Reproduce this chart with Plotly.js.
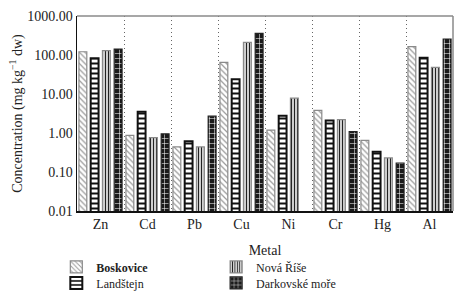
<!DOCTYPE html>
<html>
<head>
<meta charset="utf-8">
<script src="https://cdn.plot.ly/plotly-3.0.1.min.js"></script>
<style>html,body{margin:0;padding:0;background:#fff;}#chart{width:454px;height:304px;}</style>
</head>
<body>
<div id="chart"></div>
<script>
const metals = ["Zn", "Cd", "Pb", "Cu", "Ni", "Cr", "Hg", "Al"];
const boskovice = [121, 0.87, 0.44, 65, 1.19, 3.8, 0.65, 163];
const landstejn = [82, 3.5, 0.61, 24, 2.75, 2.1, 0.33, 85];
const novaRise = [129, 0.76, 0.44, 211, 7.8, 2.2, 0.23, 48];
const darkovske = [142, 0.95, 2.7, 360, null, 1.08, 0.17, 257];
const seriesNames = ["<b>Boskovice</b>", "Landštejn", "Nová Říše", "Darkovské moře"];
const yTickVals = [0.01, 0.1, 1, 10, 100, 1000];
const yTickText = ["0.01", "0.10", "1.00", "10.00", "100.00", "1000.00"];

const FONT = "Liberation Serif";
const TXT = "#222222";

const traces = [
  {
    type: "bar", x: metals, y: boskovice, name: seriesNames[0], legend: "legend",
    marker: {
      color: "#ffffff",
      line: {color: "#8a8a8a", width: 1.2},
      pattern: {shape: "\\", fgcolor: "#9a9a9a", bgcolor: "#ffffff", size: 4, solidity: 0.3, fillmode: "replace"}
    }
  },
  {
    type: "bar", x: metals, y: landstejn, name: seriesNames[1], legend: "legend3",
    marker: {
      color: "#ffffff",
      line: {color: "#111111", width: 2},
      pattern: {shape: "-", fgcolor: "#111111", bgcolor: "#ffffff", size: 5, solidity: 0.4, fillmode: "replace"}
    }
  },
  {
    type: "bar", x: metals, y: novaRise, name: seriesNames[2], legend: "legend2",
    marker: {
      color: "#cfcfcf",
      line: {color: "#8a8a8a", width: 1.2},
      pattern: {shape: "|", fgcolor: "#222222", bgcolor: "#cfcfcf", size: 3, solidity: 0.35, fillmode: "replace"}
    }
  },
  {
    type: "bar", x: metals, y: darkovske, name: seriesNames[3], legend: "legend4",
    marker: {
      color: "#1a1a1a",
      line: {color: "#222222", width: 1.2},
      pattern: {shape: "+", fgcolor: "#ffffff", bgcolor: "#1a1a1a", size: 5, solidity: 0.2, fillmode: "replace"}
    }
  }
];

function legendAt(x, y) {
  return {
    orientation: "v", x: x, y: y, xanchor: "left", yanchor: "middle",
    font: {family: FONT, size: 12, color: TXT},
    bgcolor: "rgba(0,0,0,0)", tracegroupgap: 0, itemclick: false
  };
}

const layout = {
  width: 454, height: 304,
  margin: {l: 77, r: 1, t: 16, b: 93},
  paper_bgcolor: "#ffffff", plot_bgcolor: "#ffffff",
  font: {family: FONT, size: 13, color: TXT},
  barmode: "group",
  bargap: 0.0,
  bargroupgap: 0.33,
  showlegend: true,
  xaxis: {
    type: "category",
    tickson: "boundaries",
    showgrid: true, gridcolor: "#666666", griddash: "1px,3px", gridwidth: 1,
    ticks: "", showline: true, linecolor: "#111111", linewidth: 1.5,
    tickfont: {family: FONT, size: 14, color: TXT},
    title: {text: "Metal", font: {family: FONT, size: 14, color: TXT}, standoff: 14},
    zeroline: false
  },
  yaxis: {
    type: "log", range: [-2, 3],
    tickvals: yTickVals, ticktext: yTickText,
    showgrid: false, zeroline: false,
    ticks: "", showline: true, linecolor: "#111111", linewidth: 1.5,
    tickfont: {family: FONT, size: 14, color: TXT},
    title: {text: "Concentration (mg kg<sup>−1</sup> dw)", font: {family: FONT, size: 14, color: TXT}, standoff: 1}
  },
  legend: legendAt(-0.055, -0.287),
  legend3: legendAt(-0.055, -0.369),
  legend2: legendAt(0.37, -0.287),
  legend4: legendAt(0.37, -0.369),
  shapes: [
    {type: "line", xref: "paper", yref: "paper", x0: 0, x1: 1, y0: 1, y1: 1, line: {color: "#8a8a8a", width: 1.5}},
    {type: "line", xref: "paper", yref: "paper", x0: 1, x1: 1, y0: 0, y1: 1, line: {color: "#8a8a8a", width: 1.5}}
  ]
};

Plotly.newPlot("chart", traces, layout, {displayModeBar: false, staticPlot: true});
</script>
</body>
</html>
